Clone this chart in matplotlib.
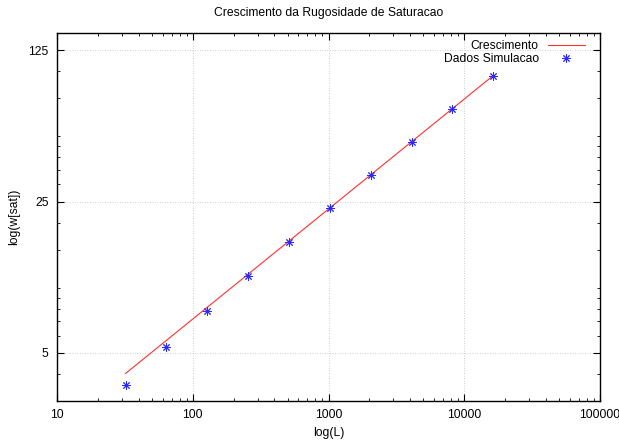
import matplotlib
matplotlib.use("Agg")
import matplotlib.pyplot as plt
from matplotlib.ticker import FixedLocator, NullFormatter, LogLocator

plt.rcParams['font.family'] = ['Liberation Sans', 'DejaVu Sans']

# simulation data
L_values = [32, 64, 128, 256, 512, 1024, 2048, 4096, 8192, 16384]
w_sat = [3.57, 5.35, 7.83, 11.3, 16.2, 23.3, 33.0, 47.2, 67.1, 95.2]

# fitted growth line, endpoints
fit_L = [32, 16384]
fit_w = [4.02, 95.5]

y_major = [5, 25, 125]
x_major = [10, 100, 1000, 10000, 100000]
x_labels = ["10", "100", "1000", "10000", "100000"]

fig = plt.figure(figsize=(6.19, 4.40), dpi=100)
ax = fig.add_axes([57 / 619, 39 / 440, 543 / 619, 368 / 440])

ax.plot(fit_L, fit_w, color="#ff3030", lw=0.8, label="Crescimento")
ax.plot(L_values, w_sat, linestyle="none", marker=(8, 2, 0), markersize=6,
        markeredgewidth=0.7, color="#2a2aff", label="Dados Simulacao")

ax.set_xscale("log")
ax.set_yscale("log")
ax.set_xlim(10, 100000)
ax.set_ylim(3, 150)

ax.set_xticks(x_major)
ax.set_xticklabels(x_labels)
ax.xaxis.set_minor_locator(LogLocator(base=10, subs=range(2, 10)))
ax.xaxis.set_minor_formatter(NullFormatter())

# gnuplot style minor ticks for log base 5
minor_factors = [1.2, 1.4, 1.6, 1.8, 2, 3, 4]
y_minor = [b * f for b in [1, 5, 25, 125] for f in minor_factors]
ax.set_yticks(y_major)
ax.set_yticklabels([str(v) for v in y_major])
ax.yaxis.set_minor_locator(FixedLocator(y_minor))
ax.yaxis.set_minor_formatter(NullFormatter())

ax.tick_params(which="both", direction="in", top=True, right=True,
               labelsize=8.7, colors="black")
ax.tick_params(which="major", length=5, width=0.8, pad=6)
ax.tick_params(which="minor", length=2.5, width=0.6)

ax.grid(True, which="major", color="#c0c0c0", linestyle=(0, (1, 2)), lw=0.6)
for s in ax.spines.values():
    s.set_linewidth(1.0)

ax.set_title("Crescimento da Rugosidade de Saturacao", fontsize=8.7, pad=12)
ax.set_xlabel("log(L)", fontsize=8.7, labelpad=4)
ax.set_ylabel("log(w[sat])", fontsize=8.7, labelpad=6)

ax.legend(loc="upper right", markerfirst=False, frameon=False, fontsize=8.7,
          handlelength=3, borderaxespad=0.2, labelspacing=0.1,
          bbox_to_anchor=(0.985, 1.0))

fig.savefig("out.png", dpi=100)
